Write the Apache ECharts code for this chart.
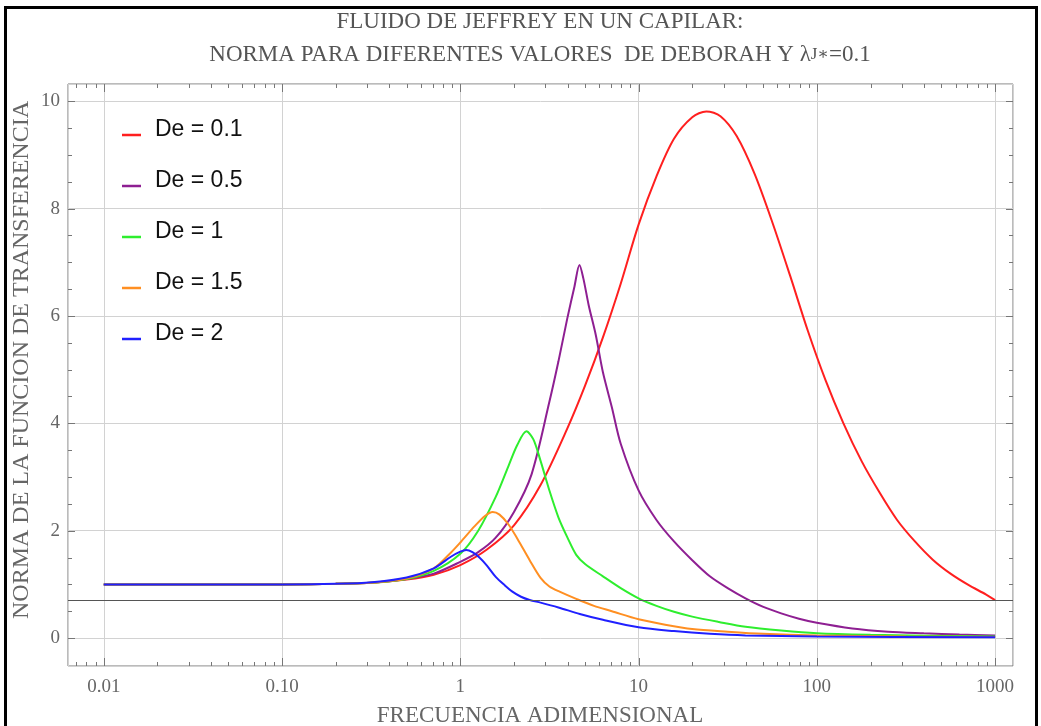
<!DOCTYPE html>
<html>
<head>
<meta charset="utf-8">
<script src="https://cdn.jsdelivr.net/npm/echarts@6/dist/echarts.min.js"></script>
<style>
html, body { margin: 0; padding: 0; background: #fff; }
#main { width: 1041px; height: 726px; }
</style>
</head>
<body>
<div id="main"></div>
<script>
// De = 0.1
const freqDe01 = [0.01, 0.1, 0.2, 0.32, 0.5, 0.71, 1, 1.41, 2, 2.82, 3.98, 5.01, 6.31, 7.94, 10, 12.6, 15.8, 20, 24, 28.8, 35.5, 44.7, 56.2, 70.8, 89.1, 112, 141, 178, 224, 282, 355, 447, 562, 708, 891, 1000]
const normDe01 = [1.00, 1.00, 1.01, 1.03, 1.09, 1.18, 1.36, 1.65, 2.1, 2.85, 3.9, 4.7, 5.6, 6.6, 7.7, 8.6, 9.3, 9.7, 9.81, 9.72, 9.35, 8.65, 7.75, 6.75, 5.72, 4.8, 4.0, 3.3, 2.72, 2.2, 1.8, 1.46, 1.2, 0.99, 0.81, 0.707]
// De = 0.5
const freqDe05 = [0.01, 0.1, 0.2, 0.32, 0.5, 0.71, 1, 1.26, 1.58, 2, 2.51, 3.16, 3.55, 3.98, 4.37, 4.66, 4.9, 5.25, 5.75, 6.31, 7.08, 7.94, 10, 12.6, 15.8, 20, 25.1, 31.6, 39.8, 50.1, 63.1, 79.4, 100, 158, 251, 398, 631, 1000]
const normDe05 = [1.00, 1.00, 1.01, 1.03, 1.1, 1.2, 1.42, 1.6, 1.87, 2.35, 3.05, 4.4, 5.15, 5.95, 6.55, 6.95, 6.7, 6.2, 5.65, 4.95, 4.3, 3.62, 2.75, 2.2, 1.8, 1.45, 1.15, 0.93, 0.74, 0.58, 0.46, 0.36, 0.285, 0.18, 0.12, 0.09, 0.065, 0.05]
// De = 1
const freqDe1 = [0.01, 0.1, 0.2, 0.32, 0.5, 0.71, 1, 1.26, 1.58, 1.86, 2.09, 2.35, 2.57, 2.82, 3.16, 3.55, 3.98, 4.47, 5.01, 6.31, 7.94, 10, 12.6, 15.8, 20, 28.2, 39.8, 63.1, 100, 200, 398, 1000]
const normDe1 = [1.00, 1.00, 1.01, 1.03, 1.1, 1.25, 1.57, 2.0, 2.63, 3.2, 3.6, 3.85, 3.7, 3.3, 2.75, 2.25, 1.88, 1.55, 1.38, 1.15, 0.93, 0.74, 0.6, 0.49, 0.4, 0.3, 0.21, 0.14, 0.09, 0.06, 0.045, 0.03]
// De = 1.5
const freqDe15 = [0.01, 0.1, 0.2, 0.32, 0.5, 0.71, 0.89, 1, 1.2, 1.38, 1.52, 1.66, 1.86, 2.09, 2.45, 2.82, 3.16, 3.63, 4.47, 5.62, 7.08, 10, 14.1, 20, 31.6, 50.1, 100, 316, 1000]
const normDe15 = [1.00, 1.00, 1.01, 1.03, 1.11, 1.3, 1.6, 1.78, 2.08, 2.28, 2.35, 2.3, 2.12, 1.85, 1.45, 1.12, 0.96, 0.86, 0.73, 0.6, 0.5, 0.35, 0.25, 0.17, 0.12, 0.08, 0.05, 0.03, 0.02]
// De = 2
const freqDe2 = [0.01, 0.1, 0.2, 0.32, 0.5, 0.71, 0.89, 1, 1.08, 1.17, 1.28, 1.41, 1.58, 1.78, 1.95, 2.19, 2.45, 2.82, 3.55, 4.68, 6.31, 10, 15.8, 25.1, 39.8, 100, 1000]
const normDe2 = [1.00, 1.00, 1.01, 1.04, 1.13, 1.3, 1.52, 1.61, 1.64, 1.6, 1.5, 1.35, 1.14, 0.98, 0.87, 0.77, 0.71, 0.66, 0.57, 0.45, 0.34, 0.2, 0.13, 0.08, 0.05, 0.03, 0.015]

const refLevel = 0.707
const xMajorTicks = [0.01, 0.1, 1, 10, 100, 1000]
const xMinorTicks = [0.007, 0.008, 0.009,
  0.02, 0.03, 0.04, 0.05, 0.06, 0.07, 0.08, 0.09,
  0.2, 0.3, 0.4, 0.5, 0.6, 0.7, 0.8, 0.9,
  2, 3, 4, 5, 6, 7, 8, 9,
  20, 30, 40, 50, 60, 70, 80, 90,
  200, 300, 400, 500, 600, 700, 800, 900]
const yMajorTicks = [0, 2, 4, 6, 8, 10]
const yMinorTicks = [0.5, 1, 1.5, 2.5, 3, 3.5, 4.5, 5, 5.5, 6.5, 7, 7.5, 8.5, 9, 9.5]

const curves = [
  { name: 'De = 0.1', color: '#ff1f1f', x: freqDe01, y: normDe01 },
  { name: 'De = 0.5', color: '#8e1f92', x: freqDe05, y: normDe05 },
  { name: 'De = 1', color: '#2eee2e', x: freqDe1, y: normDe1 },
  { name: 'De = 1.5', color: '#ff8f22', x: freqDe15, y: normDe15 },
  { name: 'De = 2', color: '#2020ff', x: freqDe2, y: normDe2 }
]

const serif = "'Liberation Serif', 'DejaVu Serif', serif"
const sans = "'Liberation Sans', Arial, sans-serif"
const frameColor = '#777'

// tick marks: [x, y, kind] kind 0 x-major, 1 x-minor, 2 y-major, 3 y-minor
const tickData = []
xMajorTicks.forEach(v => tickData.push([v, 1, 0]))
xMinorTicks.forEach(v => tickData.push([v, 1, 1]))
yMajorTicks.forEach(v => tickData.push([1, v, 2]))
yMinorTicks.forEach(v => tickData.push([1, v, 3]))

const myChart = echarts.init(document.getElementById('main'))

const series = curves.map(c => ({
  name: c.name,
  type: 'line',
  data: c.x.map((v, i) => [v, c.y[i]]),
  showSymbol: false,
  smooth: 0.3,
  color: c.color,
  lineStyle: { width: 2, color: c.color },
  z: 3
}))

series[0].markLine = {
  silent: true,
  symbol: 'none',
  label: { show: false },
  lineStyle: { color: '#555', width: 1, type: 'solid' },
  data: [{ yAxis: refLevel }]
}

series.push({
  type: 'custom',
  silent: true,
  data: tickData,
  z: 5,
  renderItem: function (params, api) {
    const cs = params.coordSys
    const kind = api.value(2)
    const style = { stroke: frameColor, lineWidth: 1 }
    if (kind < 2) {
      const px = Math.round(api.coord([api.value(0), 1])[0]) + 0.5
      const len = kind === 0 ? 8 : 4
      const bottom = cs.y + cs.height
      return {
        type: 'group',
        children: [
          { type: 'line', shape: { x1: px, y1: bottom, x2: px, y2: bottom - len }, style: style },
          { type: 'line', shape: { x1: px, y1: cs.y, x2: px, y2: cs.y + len }, style: style }
        ]
      }
    }
    const py = Math.round(api.coord([1, api.value(1)])[1]) + 0.5
    const len = kind === 2 ? 7 : 4
    const right = cs.x + cs.width
    return {
      type: 'group',
      children: [
        { type: 'line', shape: { x1: cs.x, y1: py, x2: cs.x + len, y2: py }, style: style },
        { type: 'line', shape: { x1: right, y1: py, x2: right - len, y2: py }, style: style }
      ]
    }
  }
})

const option = {
  animation: false,
  backgroundColor: '#fff',
  grid: {
    left: 68,
    top: 84,
    right: 28,
    bottom: 60,
    show: true,
    borderColor: frameColor,
    borderWidth: 1,
    backgroundColor: 'transparent'
  },
  legend: {
    data: curves.map(c => c.name),
    orient: 'vertical',
    left: 122,
    top: 117,
    padding: 0,
    icon: 'path://M0,0M0,10L19,10L19,12.5L0,12.5Z',
    symbolKeepAspect: false,
    itemWidth: 19,
    itemHeight: 12.5,
    itemGap: 25,
    textStyle: {
      fontFamily: sans,
      fontSize: 23,
      color: '#111',
      lineHeight: 26,
      padding: [0, 0, 0, 9]
    }
  },
  xAxis: {
    type: 'log',
    logBase: 10,
    min: 0.0063,
    max: 1260,
    axisLine: { show: false },
    axisTick: { show: false },
    splitLine: { show: true, lineStyle: { color: '#d2d2d2', width: 1 } },
    axisLabel: {
      margin: 12,
      fontFamily: serif,
      fontSize: 19,
      color: '#666',
      formatter: function (v) {
        const e = Math.log10(v)
        if (Math.abs(e - Math.round(e)) > 1e-6) return ''
        return v < 1 ? v.toFixed(2) : String(Math.round(v))
      }
    }
  },
  yAxis: {
    type: 'value',
    min: -0.52,
    max: 10.32,
    splitNumber: 5,
    axisLine: { show: false },
    axisTick: { show: false },
    splitLine: { show: true, lineStyle: { color: '#d2d2d2', width: 1 } },
    axisLabel: {
      margin: 8,
      fontFamily: serif,
      fontSize: 19,
      color: '#666',
      formatter: function (v) {
        return yMajorTicks.indexOf(Math.round(v * 100) / 100) >= 0 ? String(v) : ''
      }
    }
  },
  graphic: [
    {
      type: 'text', x: 540, y: 22,
      style: { text: 'FLUIDO DE JEFFREY EN UN CAPILAR:', align: 'center', verticalAlign: 'middle', fontFamily: serif, fontSize: 23, fill: '#555' }
    },
    {
      type: 'text', x: 540, y: 55,
      style: {
        text: 'NORMA PARA DIFERENTES VALORES  DE DEBORAH Y λ{s|J∗}=0.1',
        rich: { s: { fontFamily: serif, fontSize: 17, fill: '#555' } },
        align: 'center', verticalAlign: 'middle', fontFamily: serif, fontSize: 23, fill: '#555'
      }
    },
    {
      type: 'text', x: 540, y: 716,
      style: { text: 'FRECUENCIA ADIMENSIONAL', align: 'center', verticalAlign: 'middle', fontFamily: serif, fontSize: 23, fill: '#666' }
    },
    {
      type: 'text', x: 22, y: 360, rotation: Math.PI / 2,
      style: { text: 'NORMA DE LA FUNCION DE TRANSFERENCIA', align: 'center', verticalAlign: 'middle', fontFamily: serif, fontSize: 24, fill: '#666' }
    },
    {
      type: 'rect', z: 100,
      shape: { x: 5.5, y: 7.5, width: 1031, height: 740 },
      style: { fill: 'none', stroke: '#000', lineWidth: 3 }
    }
  ],
  series: series
}

option && myChart.setOption(option)
</script>
</body>
</html>
